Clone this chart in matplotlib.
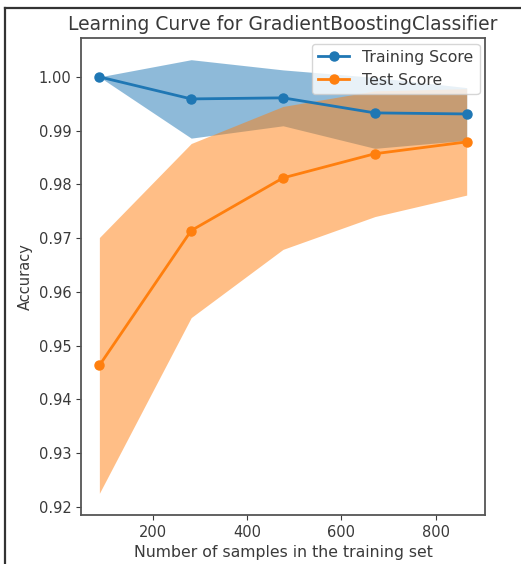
import numpy as np
import matplotlib
matplotlib.use("Agg")
import matplotlib.pyplot as plt
from matplotlib.lines import Line2D

# ── Data ──────────────────────────────────────────────────────────────────────
train_sizes = [86, 281, 476, 671, 866]
train_mean  = [1.0000, 0.9959, 0.9961, 0.9933, 0.9931]
train_std   = [0.0000, 0.0073, 0.0052, 0.0066, 0.0049]
test_mean   = [0.9463, 0.9714, 0.9812, 0.9857, 0.9879]
test_std    = [0.0238, 0.0162, 0.0133, 0.0117, 0.0099]

title  = "Learning Curve for GradientBoostingClassifier"
xlabel = "Number of samples in the training set"
ylabel = "Accuracy"

TEXT = "#3a3a3a"
plt.rcParams["font.family"] = ["DejaVu Sans"]

x  = np.array(train_sizes)
tm = np.array(train_mean)
ts = np.array(train_std)
vm = np.array(test_mean)
vs = np.array(test_std)

fig = plt.figure(figsize=(5.21, 5.64), dpi=100)
ax = fig.add_axes([0.1555, 0.0869, 0.7755, 0.8457])

ax.fill_between(x, tm - ts, tm + ts, color="#1f77b4", alpha=0.5, linewidth=0)
ax.fill_between(x, vm - vs, vm + vs, color="#ff7f0e", alpha=0.5, linewidth=0)
ax.plot(x, tm, "o-", color="#1f77b4", lw=2, ms=6.5, label="Training Score")
ax.plot(x, vm, "o-", color="#ff7f0e", lw=2, ms=6.5, label="Test Score")

ax.set_title(title, fontsize=13.5, color=TEXT)
ax.set_xlabel(xlabel, fontsize=11.3, color=TEXT)
ax.set_ylabel(ylabel, fontsize=10.5, color=TEXT)
ax.set_xticks([200, 400, 600, 800])
ax.set_yticks(np.arange(0.92, 1.0001, 0.01))
ax.yaxis.set_major_formatter(plt.FormatStrFormatter("%.2f"))
ax.tick_params(labelsize=10.5, colors=TEXT)
for sp in ax.spines.values():
    sp.set_color("#555555")
    sp.set_linewidth(1.3)

leg = ax.legend(loc="upper right", fontsize=11.3, borderaxespad=0.35)
for t in leg.get_texts():
    t.set_color(TEXT)

# screenshot frame (left and top edges)
fig.add_artist(Line2D([5 / 521, 5 / 521], [0, 1 - 8 / 564], color="#333333", lw=1.6))
fig.add_artist(Line2D([5 / 521, 1], [1 - 8 / 564, 1 - 8 / 564], color="#333333", lw=1.6))

fig.savefig("out.png", dpi=100)
